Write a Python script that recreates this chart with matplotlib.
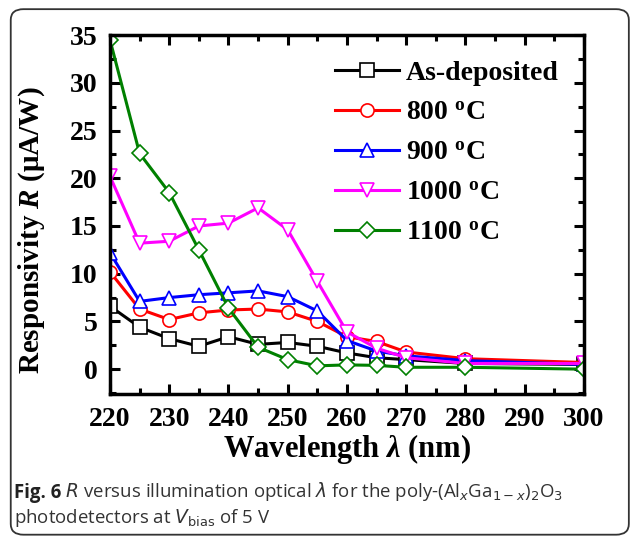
import matplotlib
matplotlib.use("Agg")
import matplotlib.pyplot as plt
from matplotlib.patches import FancyBboxPatch
from matplotlib.ticker import MultipleLocator

plt.rcParams['font.family'] = 'Liberation Serif'
plt.rcParams['mathtext.fontset'] = 'custom'
plt.rcParams['mathtext.rm'] = 'Liberation Serif:bold'
plt.rcParams['mathtext.it'] = 'Liberation Serif:italic:bold'
plt.rcParams['mathtext.bf'] = 'Liberation Serif:bold'

wavelength = [220, 225, 230, 235, 240, 245, 250, 255, 260, 265, 270, 280, 300]
as_dep = [6.6, 4.4, 3.2, 2.4, 3.4, 2.6, 2.8, 2.4, 1.7, 1.2, 1.0, 0.6, 0.5]
r800 = [10.2, 6.3, 5.2, 5.9, 6.2, 6.3, 6.0, 5.0, 3.4, 2.9, 1.8, 1.1, 0.7]
r900 = [12.2, 7.1, 7.5, 7.8, 8.0, 8.2, 7.6, 6.1, 3.0, 1.9, 1.4, 0.9, 0.5]
r1000 = [20.2, 13.2, 13.4, 15.0, 15.3, 16.9, 14.6, 9.2, 3.9, 2.2, 1.2, 0.6, 0.6]
r1100 = [34.5, 22.6, 18.5, 12.5, 6.4, 2.3, 1.0, 0.35, 0.45, 0.4, 0.2, 0.2, 0.0]

series = [
    (as_dep, 'As-deposited', 'black', 's'),
    (r800, '800 $^\\mathrm{o}$C', 'red', 'o'),
    (r900, '900 $^\\mathrm{o}$C', 'blue', '^'),
    (r1000, '1000 $^\\mathrm{o}$C', 'magenta', 'v'),
    (r1100, '1100 $^\\mathrm{o}$C', 'green', 'D'),
]

fig = plt.figure(figsize=(6.32, 5.39), dpi=100)
ax = fig.add_axes([0.174, 0.269, 0.750, 0.666])

for vals, lab, col, mk in series:
    ms = 9.5 if mk != 'D' else 8.5
    ax.plot(wavelength, vals, color=col, lw=2.2, marker=mk, ms=ms,
            mfc='white', mec=col, mew=1.2, label=lab)

ax.set_xlim(220, 300)
ax.set_ylim(-2.6, 35)
ax.xaxis.set_major_locator(MultipleLocator(10))
ax.xaxis.set_minor_locator(MultipleLocator(5))
ax.yaxis.set_major_locator(MultipleLocator(5))
ax.yaxis.set_minor_locator(MultipleLocator(2.5))
ax.tick_params(which='both', direction='in', top=True, right=True, width=2.2)
ax.tick_params(which='major', length=7, labelsize=20, pad=9)
ax.tick_params(which='minor', length=4)
for lbl in ax.get_xticklabels() + ax.get_yticklabels():
    lbl.set_fontweight('bold')
for s in ax.spines.values():
    s.set_linewidth(2.5)

ax.set_xlabel('Wavelength $\\lambda$ (nm)', fontsize=22, fontweight='bold', labelpad=0)
ax.set_ylabel('Responsivity $R$ (\u03bcA/W)', fontsize=21, fontweight='bold')
ax.yaxis.set_label_coords(-0.132, 0.457)

leg = ax.legend(loc='upper right', bbox_to_anchor=(0.982, 0.975), frameon=False,
                prop={'family': 'Liberation Serif', 'weight': 'bold', 'size': 20},
                handlelength=2.3, labelspacing=0.52,
                handletextpad=0.25, borderaxespad=0.2)

box = FancyBboxPatch((0.017, 0.008), 0.978, 0.975,
                     boxstyle='round,pad=0,rounding_size=0.02',
                     transform=fig.transFigure, fill=False,
                     edgecolor='#333333', lw=1.3)
fig.patches.append(box)

cap_color = '#333333'
t1 = fig.text(0.022, 1 - 498 / 539, 'Fig. 6', family='Open Sans', fontweight='bold',
              fontsize=13.4, va='baseline', ha='left', color='#222222')
ax.annotate(' $\\mathit{R}$ versus illumination optical $\\mathit{\\lambda}$ for the '
            'poly-(Al$_{\\mathit{x}}$Ga$_{1-\\mathit{x}}$)$_2$O$_3$',
            xy=(1, 0), xycoords=t1, va='bottom', ha='left', family='Open Sans',
            fontweight='normal', fontsize=13.4, math_fontfamily='dejavusans',
            color=cap_color, annotation_clip=False)
fig.text(0.022, 1 - 523 / 539, 'photodetectors at $\\mathit{V}_{\\mathrm{bias}}$ of 5 V',
         family='Open Sans', fontweight='normal', fontsize=13.4, va='baseline',
         ha='left', math_fontfamily='dejavusans', color=cap_color)

fig.savefig('out.png', dpi=100)
